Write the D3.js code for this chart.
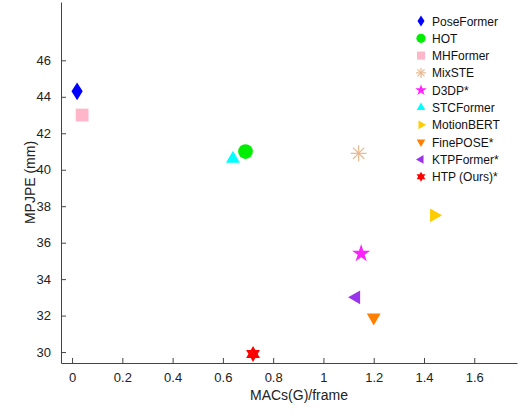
<!DOCTYPE html>
<html>
<head>
<meta charset="UTF-8">
<script src="https://d3js.org/d3.v7.min.js"></script>
<style>body{margin:0;background:#fff}</style>
</head>
<body>
<svg width="520" height="416"></svg>
<script>
const methods = ["PoseFormer","HOT","MHFormer","MixSTE","D3DP*","STCFormer","MotionBERT","FinePOSE*","KTPFormer*","HTP (Ours)*"];
const macs = [0.02, 0.69, 0.04, 1.14, 1.15, 0.64, 1.44, 1.20, 1.13, 0.72];
const mpjpe = [44.3, 41.0, 43.0, 40.9, 35.4, 40.6, 37.5, 31.9, 33.0, 29.9];
const colors = ["#0000ff","#00ee00","#ffb6c8","#e8b890","#ff22ff","#00ffff","#ffcc00","#ff8000","#9933ee","#ff0000"];
const shapes = ["diamond","circle","square","asterisk","star","up","right","down","left","hexstar"];
const xTicks = [0,0.2,0.4,0.6,0.8,1,1.2,1.4,1.6];
const yTicks = [30,32,34,36,38,40,42,44,46];

const svg = d3.select("svg");
const mLeft = 61, mRight = 517, mTop = 2, mBottom = 363;
const x = d3.scaleLinear().domain([-0.044, 1.77]).range([mLeft, mRight]);
const y = d3.scaleLinear().domain([29.4, 49.2]).range([mBottom, mTop]);

svg.append("g").attr("transform", `translate(0,${mBottom})`)
  .call(d3.axisBottom(x).tickValues(xTicks).tickSizeInner(-5).tickSizeOuter(0).tickPadding(10).tickFormat(d3.format("~g")));
svg.append("g").attr("transform", `translate(${mLeft},0)`)
  .call(d3.axisLeft(y).tickValues(yTicks).tickSizeInner(-5).tickSizeOuter(0).tickPadding(10));
svg.selectAll(".domain,.tick line").attr("stroke", "#444");
svg.selectAll(".tick text").attr("font-family", "Liberation Sans, Arial").attr("font-size", 13).attr("fill", "#222");

svg.append("text").attr("x", (mLeft + mRight) / 2 + 10).attr("y", 400).attr("text-anchor", "middle")
  .attr("font-family", "Liberation Sans, Arial").attr("font-size", 14).attr("fill", "#222").text("MACs(G)/frame");
svg.append("text").attr("transform", `translate(35,${(mTop + mBottom) / 2}) rotate(-90)`).attr("text-anchor", "middle")
  .attr("font-family", "Liberation Sans, Arial").attr("font-size", 14).attr("fill", "#222").text("MPJPE (mm)");

function shapePath(s, r) {
  const tri = a => d3.range(3).map(i => { const t = a + i * 2 * Math.PI / 3; return [r * Math.cos(t), r * Math.sin(t)]; });
  const poly = p => "M" + p.map(q => q.join(",")).join("L") + "Z";
  if (s === "diamond") return poly([[0,-r*1.1],[r*0.7,0],[0,r*1.1],[-r*0.7,0]]);
  if (s === "circle") return d3.symbol(d3.symbolCircle, Math.PI * r * r * 0.85)();
  if (s === "square") return poly([[-r*0.8,-r*0.8],[r*0.8,-r*0.8],[r*0.8,r*0.8],[-r*0.8,r*0.8]]);
  if (s === "star") return d3.symbol(d3.symbolStar, r * r * 1.6)();
  if (s === "up") return poly(tri(-Math.PI / 2));
  if (s === "down") return poly(tri(Math.PI / 2));
  if (s === "right") return poly(tri(0));
  if (s === "left") return poly(tri(Math.PI));
  if (s === "hexstar") return poly(tri(-Math.PI / 2)) + poly(tri(Math.PI / 2));
  return "";
}
function drawMarker(g, s, c, r) {
  if (s === "asterisk") {
    d3.range(4).forEach(i => {
      const t = i * Math.PI / 4;
      g.append("line").attr("x1", -r * Math.cos(t)).attr("y1", -r * Math.sin(t))
        .attr("x2", r * Math.cos(t)).attr("y2", r * Math.sin(t)).attr("stroke", c).attr("stroke-width", 1.2);
    });
  } else {
    g.append("path").attr("d", shapePath(s, r)).attr("fill", c);
  }
}

methods.forEach((m, i) => {
  const g = svg.append("g").attr("transform", `translate(${x(macs[i])},${y(mpjpe[i])})`);
  drawMarker(g, shapes[i], colors[i], 8);
});

const legend = svg.append("g").attr("transform", "translate(421,21)");
methods.forEach((m, i) => {
  const g = legend.append("g").attr("transform", `translate(0,${i * 17.3})`);
  drawMarker(g, shapes[i], colors[i], 5);
  g.append("text").attr("x", 11).attr("y", 4.5).attr("font-family", "Liberation Sans, Arial")
    .attr("font-size", 12).attr("fill", "#111").text(m);
});
</script>
</body>
</html>
